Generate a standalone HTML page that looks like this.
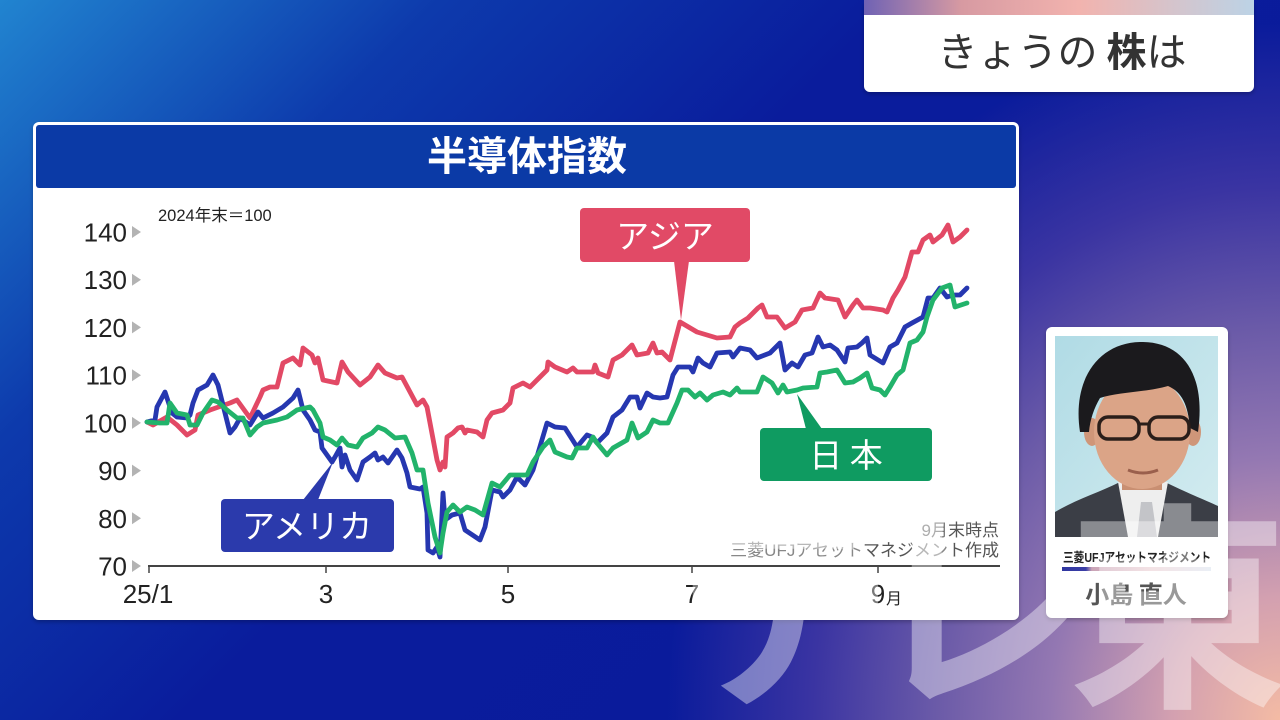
<!DOCTYPE html>
<html><head><meta charset="utf-8">
<style>
html,body{margin:0;padding:0;}
body{width:1280px;height:720px;overflow:hidden;position:relative;
background:
radial-gradient(720px 820px at 100% 100%, #f4bba4 0%, #d3a0b0 15%, #9478b2 32%, #6a5aa8 48%, #3a34a2 65%, rgba(12,28,158,0) 85%),
linear-gradient(135deg, #2184d0 0%, #0d3aac 22%, #0a1c9c 45%, #0a1a9a 100%);}
svg{position:absolute;left:0;top:0;overflow:hidden;}
</style></head><body>
<svg width="1280" height="720" viewBox="0 0 1280 720" xmlns="http://www.w3.org/2000/svg" font-family="'Liberation Sans','Noto Sans CJK JP',sans-serif">
<defs>
<linearGradient id="strip" x1="0" x2="1" y1="0" y2="0">
<stop offset="0" stop-color="#6f62b4"/><stop offset="0.25" stop-color="#d79aa2"/><stop offset="0.55" stop-color="#f2b3ae"/><stop offset="1" stop-color="#bcd3e6"/>
</linearGradient>
<linearGradient id="photo" x1="0" x2="1" y1="0" y2="1">
<stop offset="0" stop-color="#b0dbe5"/><stop offset="1" stop-color="#d4ecf0"/>
</linearGradient>
<linearGradient id="bar" x1="0" x2="1" y1="0" y2="0">
<stop offset="0" stop-color="#2f36a0"/><stop offset="0.16" stop-color="#3b3ea6"/><stop offset="0.2" stop-color="#c9a3b6"/><stop offset="0.6" stop-color="#ecd0d4"/><stop offset="1" stop-color="#dde5f0"/>
</linearGradient>
<filter id="sh" x="-5%" y="-5%" width="110%" height="115%"><feDropShadow dx="0" dy="2" stdDeviation="2" flood-color="#000" flood-opacity="0.25"/></filter>
<clipPath id="frame"><rect x="0" y="0" width="1280" height="720"/></clipPath>
</defs>

<!-- top right title -->
<rect x="864" y="0" width="390" height="92" rx="6" fill="#ffffff" filter="url(#sh)"/>
<rect x="864" y="0" width="390" height="15" fill="url(#strip)"/>
<text x="1062" y="66" font-size="40" text-anchor="middle" fill="#333" font-weight="400" font-family="'Noto Sans CJK JP',sans-serif">きょうの <tspan font-weight="700">株</tspan>は</text>

<!-- chart panel -->
<rect x="33" y="122" width="986" height="498" rx="6" fill="#ffffff" filter="url(#sh)"/>
<rect x="36" y="125" width="980" height="63" rx="3" fill="#0b3aa6"/>
<text x="527" y="170" font-size="40" text-anchor="middle" fill="#ffffff" font-weight="700" font-family="'Noto Sans CJK JP',sans-serif">半導体指数</text>

<text x="158" y="221" font-size="16.5" fill="#222" font-family="'Liberation Sans','Noto Sans CJK JP',sans-serif">2024年末＝100</text>

<!-- y labels -->
<g font-size="26" fill="#222" text-anchor="end">
<text x="127" y="241.5">140</text>
<text x="127" y="289.2">130</text>
<text x="127" y="336.9">120</text>
<text x="127" y="384.7">110</text>
<text x="127" y="432.4">100</text>
<text x="127" y="480.1">90</text>
<text x="127" y="527.8">80</text>
<text x="127" y="575.5">70</text>
</g>
<g fill="#b3b3b3">
<polygon points="132,226 141,232 132,238"/>
<polygon points="132,273.7 141,279.7 132,285.7"/>
<polygon points="132,321.4 141,327.4 132,333.4"/>
<polygon points="132,369.2 141,375.2 132,381.2"/>
<polygon points="132,416.9 141,422.9 132,428.9"/>
<polygon points="132,464.6 141,470.6 132,476.6"/>
<polygon points="132,512.3 141,518.3 132,524.3"/>
<polygon points="132,560 141,566 132,572"/>
</g>

<!-- source -->
<g font-size="17" text-anchor="end" font-family="'Liberation Sans','Noto Sans CJK JP',sans-serif">
<text x="999" y="536" fill="#777">9月<tspan fill="#555">末時点</tspan></text>
<text x="999" y="556" fill="#888">三菱UFJアセット<tspan fill="#555">マネジ</tspan>メン<tspan fill="#555">ト作成</tspan></text>
</g>

<!-- axis -->
<line x1="148" y1="566" x2="1000" y2="566" stroke="#444" stroke-width="2"/>
<g stroke="#444" stroke-width="1.5">
<line x1="149" y1="566" x2="149" y2="573"/>
<line x1="326" y1="566" x2="326" y2="573"/>
<line x1="508" y1="566" x2="508" y2="573"/>
<line x1="692" y1="566" x2="692" y2="573"/>
<line x1="878" y1="566" x2="878" y2="573"/>
</g>
<g font-size="26" fill="#222" text-anchor="middle">
<text x="148" y="603">25/1</text>
<text x="326" y="603">3</text>
<text x="508" y="603">5</text>
<text x="692" y="603">7</text>
<text x="878" y="603">9</text>
</g>
<text x="886" y="604" font-size="16" fill="#222" font-family="'Noto Sans CJK JP',sans-serif">月</text>

<!-- series -->
<g fill="none" stroke-width="4.8" stroke-linejoin="round" stroke-linecap="round">
<polyline stroke="#e24965" points="147,422 153,425 160,421 167,417 177,425 187,435 195,430 198,415 210,410 230,403 237,400 250,418 260,397 263,390 270,387 277,387 283,363 293,358 300,365 303,348 312,355 315,363 318,358 323,380 337,383 342,362 348,372 360,385 370,377 378,365 385,373 397,378 402,377 417,405 423,400 427,407 437,460 440,470 443,462 445,467 447,437 453,433 458,428 462,427 465,433 467,430 477,432 483,437 487,420 492,413 503,410 510,403 513,388 523,383 530,387 540,377 547,370 548,362 555,367 567,372 573,368 577,372 593,372 595,365 598,373 608,377 613,360 622,355 632,345 637,355 648,353 653,343 657,353 662,352 670,360 680,322 697,332 707,335 717,338 730,337 735,327 740,323 748,318 758,308 762,305 767,317 777,317 785,328 795,322 802,310 813,308 820,293 825,298 838,300 845,317 853,305 857,300 863,308 870,308 883,310 887,312 893,298 898,290 905,277 912,252 918,252 923,240 930,235 933,242 942,235 948,225 953,242 960,237 967,230"/>
<polyline stroke="#2637b0" points="147,422 155,420 157,407 165,392 172,413 177,417 187,418 190,415 193,403 198,390 207,385 213,375 218,385 225,413 230,433 235,427 240,418 250,425 258,412 263,418 273,413 283,407 293,398 298,390 303,410 310,420 315,430 320,432 322,448 327,455 332,462 335,457 340,448 342,467 345,455 350,470 357,480 363,462 370,457 375,453 378,460 383,457 388,463 397,450 402,458 407,473 410,487 420,489 423,487 427,513 428,550 433,553 437,547 440,557 443,493 445,520 452,515 460,513 465,530 480,540 485,527 492,490 500,492 503,497 510,490 517,477 525,485 533,470 547,423 555,427 565,428 577,447 587,435 592,437 597,443 607,433 613,417 622,410 630,397 637,397 640,408 647,393 653,397 660,398 667,397 673,375 678,367 690,367 693,372 698,358 703,363 710,367 717,353 730,352 733,357 740,348 750,350 757,358 770,353 780,343 785,370 792,363 798,367 805,355 812,353 818,337 823,347 830,345 837,350 845,362 848,348 857,347 862,343 867,338 870,355 883,363 890,347 897,343 905,327 912,323 923,317 928,298 933,298 940,288 947,297 953,295 960,295 967,288"/>
<polyline stroke="#22b36b" points="147,422 160,423 167,423 170,403 177,413 187,415 190,425 197,425 203,413 212,400 218,402 227,410 237,418 243,418 250,435 257,427 263,423 277,420 287,417 297,410 310,407 313,410 320,423 323,437 330,440 337,445 342,438 348,445 357,447 363,438 372,433 378,427 385,430 395,438 405,437 412,453 417,470 423,470 428,503 435,537 440,553 443,533 447,512 453,505 460,512 467,507 475,510 483,515 492,483 500,487 510,475 527,475 533,462 543,447 550,440 555,452 567,457 572,458 577,448 587,448 593,437 597,443 607,455 613,448 627,440 632,423 638,438 647,432 653,420 660,423 668,423 677,403 682,390 688,390 695,397 700,393 707,400 713,395 723,392 730,395 737,388 740,392 747,392 757,392 763,377 772,383 778,393 783,385 787,392 797,390 803,388 817,387 820,373 827,372 837,370 845,383 853,382 860,378 867,373 872,388 880,390 885,395 890,387 897,375 903,370 910,343 917,340 923,332 927,317 933,300 942,288 950,285 955,307 967,303"/>
</g>

<!-- callouts -->
<g font-family="'Noto Sans CJK JP',sans-serif" font-size="33" fill="#fff" text-anchor="middle" font-weight="400">
<rect x="580" y="208" width="170" height="54" rx="4" fill="#e14a66"/>
<polygon points="674,261 689,261 681,320" fill="#e14a66"/>
<text x="665" y="248">アジア</text>

<rect x="221" y="499" width="173" height="53" rx="4" fill="#2b3aac"/>
<polygon points="303,500 318,500 333,462" fill="#2b3aac"/>
<text x="307" y="538">アメリカ</text>

<rect x="760" y="428" width="172" height="53" rx="4" fill="#0f9b61"/>
<polygon points="806,429 822,429 797,394" fill="#0f9b61"/>
<text x="846" y="467">日 本</text>
</g>

<!-- person panel -->
<rect x="1046" y="327" width="182" height="291" rx="6" fill="#ffffff" filter="url(#sh)"/>
<rect x="1055" y="336" width="163" height="201" fill="url(#photo)"/>
<g>
<path d="M1055,537 L1055,512 C1075,500 1100,492 1120,482 L1165,482 C1185,492 1205,500 1218,506 L1218,537 Z" fill="#3b3e46"/>
<polygon points="1118,482 1168,482 1158,537 1128,537" fill="#eeeeee"/>
<polygon points="1141,502 1152,502 1157,537 1137,537" fill="#c3c4c8"/>
<rect x="1122" y="455" width="40" height="35" fill="#c98f72"/>
<ellipse cx="1092" cy="432" rx="8" ry="14" fill="#cf9679"/>
<ellipse cx="1193" cy="432" rx="8" ry="14" fill="#cf9679"/>
<ellipse cx="1142" cy="432" rx="48" ry="57" fill="#dba487"/>
<path d="M1080,432 C1072,380 1098,343 1140,342 C1184,341 1206,376 1198,432 L1190,428 C1188,405 1182,392 1168,386 C1148,392 1118,392 1100,398 C1094,408 1090,420 1089,432 Z" fill="#1b1a1d"/>
<rect x="1099" y="417" width="40" height="22" rx="9" fill="none" stroke="#2a1e1a" stroke-width="3.5"/>
<rect x="1149" y="417" width="40" height="22" rx="9" fill="none" stroke="#2a1e1a" stroke-width="3.5"/>
<line x1="1139" y1="424" x2="1149" y2="424" stroke="#2a1e1a" stroke-width="3"/>
<path d="M1128,470 Q1143,476 1158,470" stroke="#9a5f4c" stroke-width="3" fill="none"/>
</g>
<text x="1137" y="562" font-size="13" text-anchor="middle" fill="#222" font-weight="700" textLength="148" lengthAdjust="spacingAndGlyphs" font-family="'Liberation Sans','Noto Sans CJK JP',sans-serif">三菱UFJアセットマネジメント</text>
<rect x="1062" y="567" width="149" height="4" fill="url(#bar)"/>
<text x="1136" y="603" font-size="24" text-anchor="middle" fill="#555" font-weight="700" font-family="'Noto Sans CJK JP',sans-serif">小島 直人</text>

<!-- watermark -->
<g clip-path="url(#frame)" fill="#ffffff" fill-opacity="0.4" font-size="220" font-weight="700" font-family="'Noto Sans CJK JP',sans-serif">
<text x="674" y="690">テ</text>
<text x="866" y="690">レ</text>
<text x="1068" y="690">東</text>
</g>
</svg>
</body></html>
